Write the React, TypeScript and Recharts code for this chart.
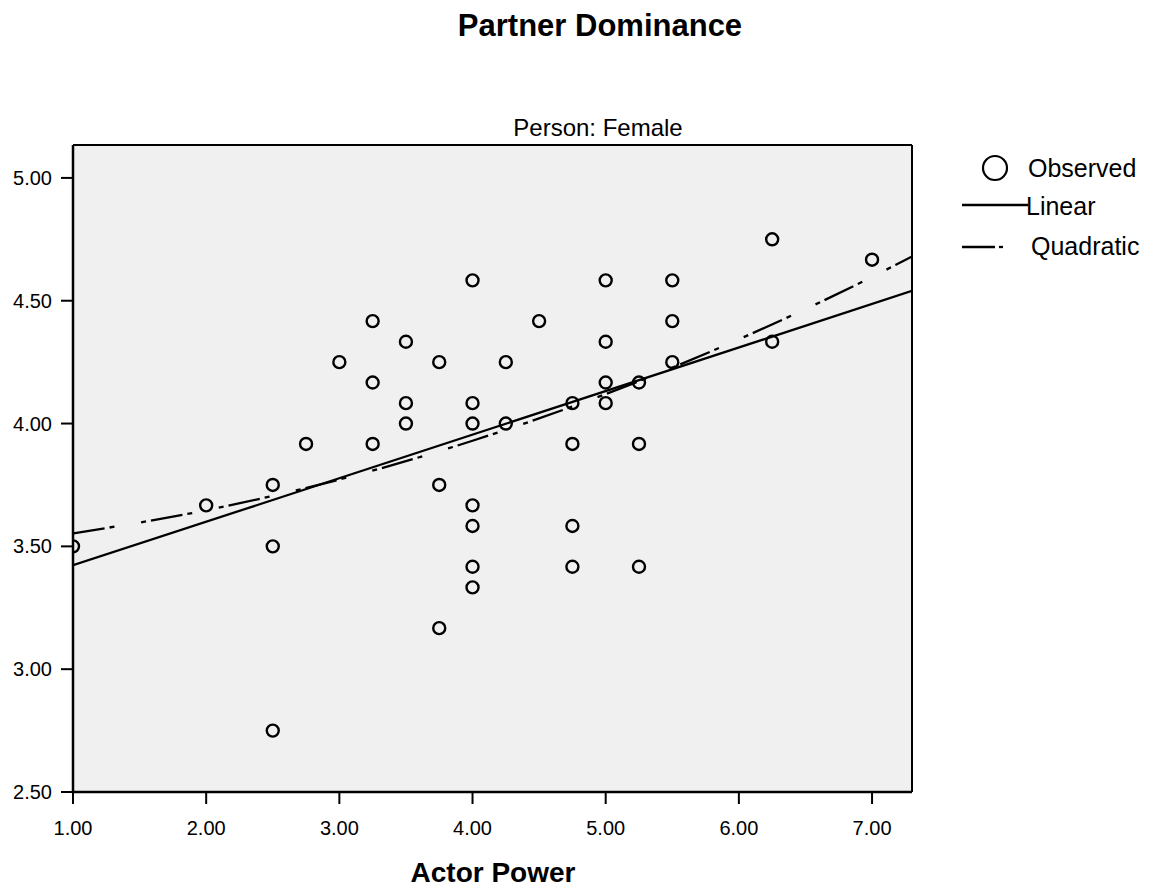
import React from "react"
import {
    ComposedChart, Scatter, Line, XAxis, YAxis, CartesianGrid, ReferenceLine,
} from "recharts"

// observed cases
const actorPower = [
    1.0, 2.0, 2.5, 2.5, 2.5, 2.75, 3.0, 3.25, 3.25, 3.25,
    3.5, 3.5, 3.5, 3.75, 3.75, 3.75, 4.0, 4.0, 4.0, 4.0,
    4.0, 4.0, 4.0, 4.25, 4.25, 4.5, 4.75, 4.75, 4.75, 4.75,
    5.0, 5.0, 5.0, 5.0, 5.25, 5.25, 5.25, 5.5, 5.5, 5.5,
    6.25, 6.25, 7.0,
]
const partnerDominance = [
    3.5, 3.667, 3.75, 3.5, 2.75, 3.917, 4.25, 4.417, 4.167, 3.917,
    4.333, 4.083, 4.0, 4.25, 3.75, 3.167, 4.583, 4.083, 4.0, 3.667,
    3.583, 3.417, 3.333, 4.25, 4.0, 4.417, 4.083, 3.917, 3.583, 3.417,
    4.583, 4.333, 4.167, 4.083, 4.167, 3.917, 3.417, 4.583, 4.417, 4.25,
    4.75, 4.333, 4.667,
]

// fitted lines, read at the plot edges / whole x values
const linearX = [1.0, 7.3]
const linearY = [3.423, 4.54]
const quadX = [1.0, 2.0, 3.0, 4.0, 5.0, 6.0, 7.0, 7.3]
const quadY = [3.553, 3.647, 3.772, 3.93, 4.12, 4.343, 4.597, 4.68]

const xTicks = [1, 2, 3, 4, 5, 6, 7]
const yTicks = [2.5, 3.0, 3.5, 4.0, 4.5, 5.0]

const observed = actorPower.map((x, i) => ({ x, y: partnerDominance[i] }))
const linear = linearX.map((x, i) => ({ x, y: linearY[i] }))
const quadratic = quadX.map((x, i) => ({ x, y: quadY[i] }))

const FONT = "'Liberation Sans', Arial, sans-serif"
// dot - dash - dot, long gap (SPSS style)
const DASH = "32 5 5 27 5 5"

const Ring = (props: any) => {
    const { cx, cy } = props
    if (cx == null || cy == null) return null
    return <circle cx={cx} cy={cy} r={6} fill="none" stroke="#000" strokeWidth={2.4} />
}

const tickStyle = { fill: "#000", fontSize: 20, fontFamily: FONT }
const fmt = (v: number) => v.toFixed(2)

export default function App() {
    return (
        <div style={{ position: "absolute", left: 0, top: 0, width: 1153, height: 891, background: "#fff" }}>
            <ComposedChart
                width={1153}
                height={891}
                margin={{ top: 145, right: 241, bottom: 59, left: 0 }}
            >
                <CartesianGrid fill="#f0f0f0" horizontal={false} vertical={false} />
                <XAxis
                    type="number"
                    dataKey="x"
                    domain={[1, 7.3]}
                    ticks={xTicks}
                    allowDataOverflow
                    height={40}
                    tickSize={12}
                    tickMargin={17}
                    tickFormatter={fmt}
                    tick={tickStyle}
                    axisLine={{ stroke: "#000", strokeWidth: 2.5 }}
                    tickLine={{ stroke: "#000", strokeWidth: 2 }}
                />
                <YAxis
                    type="number"
                    dataKey="y"
                    domain={[2.5, 5.134]}
                    ticks={yTicks}
                    allowDataOverflow
                    width={73}
                    tickSize={12}
                    tickMargin={9}
                    tickFormatter={fmt}
                    tick={tickStyle}
                    axisLine={{ stroke: "#000", strokeWidth: 2.5 }}
                    tickLine={{ stroke: "#000", strokeWidth: 2 }}
                />
                <ReferenceLine y={5.134} stroke="#000" strokeWidth={2} />
                <ReferenceLine x={7.3} stroke="#000" strokeWidth={2} />
                <Line
                    data={linear}
                    dataKey="y"
                    type="linear"
                    stroke="#000"
                    strokeWidth={2.3}
                    dot={false}
                    activeDot={false}
                    isAnimationActive={false}
                />
                <Line
                    data={quadratic}
                    dataKey="y"
                    type="monotone"
                    stroke="#000"
                    strokeWidth={2.3}
                    strokeDasharray={DASH}
                    dot={false}
                    activeDot={false}
                    isAnimationActive={false}
                />
                <Scatter data={observed} dataKey="y" shape={Ring} isAnimationActive={false} />
            </ComposedChart>

            {/* titles + legend drawn on top */}
            <svg width={1153} height={891} style={{ position: "absolute", left: 0, top: 0, pointerEvents: "none" }} fontFamily={FONT}>
                <text x={600} y={36} textAnchor="middle" fontSize={31} fontWeight="bold">Partner Dominance</text>
                <text x={598} y={136} textAnchor="middle" fontSize={24}>Person: Female</text>
                <text x={493} y={882} textAnchor="middle" fontSize={28} fontWeight="bold">Actor Power</text>

                <circle cx={995} cy={168} r={12} fill="none" stroke="#000" strokeWidth={2.2} />
                <text x={1028} y={177} fontSize={25}>Observed</text>
                <line x1={962} y1={205} x2={1028} y2={205} stroke="#000" strokeWidth={2.3} />
                <text x={1026} y={215} fontSize={25}>Linear</text>
                <line x1={962} y1={247} x2={995} y2={247} stroke="#000" strokeWidth={2.3} />
                <line x1={999} y1={247} x2={1003} y2={247} stroke="#000" strokeWidth={2.3} />
                <text x={1031} y={255} fontSize={25}>Quadratic</text>
            </svg>
        </div>
    )
}
